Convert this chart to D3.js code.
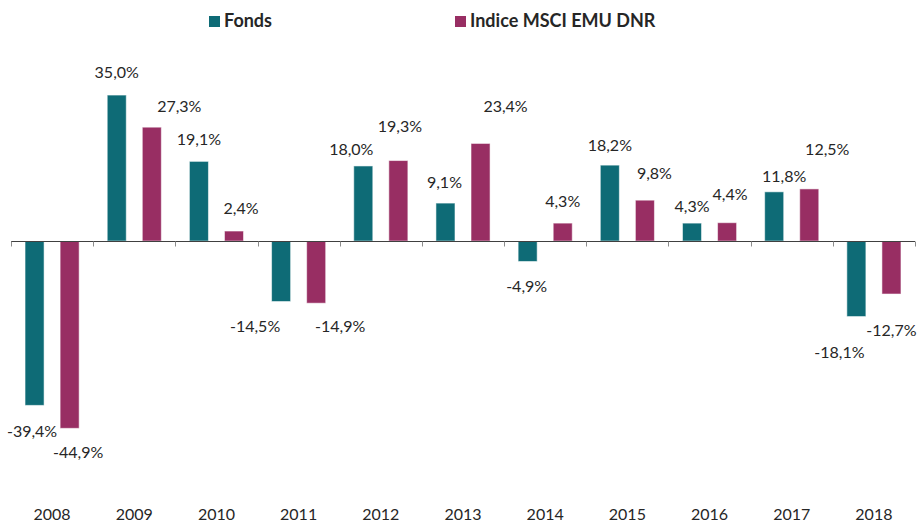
<!DOCTYPE html>
<html>
<head>
<meta charset="utf-8">
<script src="https://cdn.jsdelivr.net/npm/d3@7"></script>
<style>
  body { margin: 0; background: #fff; }
  svg { display: block; font-family: Lato, "Open Sans", sans-serif; }
</style>
</head>
<body>
<svg id="chart" width="917" height="522"></svg>
<script>
// Data (annual performance, %)
const years = ["2008", "2009", "2010", "2011", "2012", "2013", "2014", "2015", "2016", "2017", "2018"];
const fonds = [-39.4, 35.0, 19.1, -14.5, 18.0, 9.1, -4.9, 18.2, 4.3, 11.8, -18.1];
const indice = [-44.9, 27.3, 2.4, -14.9, 19.3, 23.4, 4.3, 9.8, 4.4, 12.5, -12.7];
const seriesNames = ["Fonds", "Indice MSCI EMU DNR"];

// Layout: labels were placed by hand in the original, so keep the nudges here
// [dx, dy] from the bar end, per year
const labelNudge = [
  [[-2.5, 25.5], [0, -22.5], [0, -22], [-26, 25], [-12, -17], [-1, -21], [-1, 25], [0, -20], [0, -17], [10, -16], [-17, 36]],
  [[8.5, 24], [27.5, -21], [7, -22.7], [24, 23], [1.5, -34], [25, -37], [0, -22], [9.5, -27], [3, -28.6], [18, -40], [0, 36]]
];
const colors = ["#0e6b76", "#982e63"];

const svg = d3.select("#chart");

const x = d3.scaleBand()
  .domain(years)
  .range([11, 915])
  .paddingInner(0)
  .paddingOuter(0);

const xs = d3.scaleBand()
  .domain([0, 1])
  .range([0, x.bandwidth()])
  .paddingInner(0.457)
  .paddingOuter(0.4);

const y = d3.scaleLinear()
  .domain([-50, 40])
  .range([449.6, 74.2]);

// french style: comma decimals, plain hyphen for negatives
const fmt = v => d3.format(".1f")(v).replace("\u2212", "-").replace(".", ",") + "%";

const data = years.map((yr, i) => ({ year: yr, values: [fonds[i], indice[i]] }));

// bars
const groups = svg.selectAll("g.year")
  .data(data)
  .enter()
  .append("g")
  .attr("class", "year")
  .attr("transform", d => "translate(" + x(d.year) + ",0)");

groups.selectAll("rect")
  .data(d => d.values.map((v, s) => ({ v, s })))
  .enter()
  .append("rect")
  .attr("x", d => xs(d.s))
  .attr("width", xs.bandwidth())
  .attr("y", d => y(Math.max(0, d.v)))
  .attr("height", d => Math.abs(y(d.v) - y(0)))
  .attr("fill", d => colors[d.s])
  .attr("stroke", "#fff")
  .attr("stroke-opacity", 0.55)
  .attr("stroke-width", 1);

// value labels
groups.each(function(d, i) {
  d3.select(this).selectAll("text.val")
    .data(d.values.map((v, s) => ({ v, s })))
    .enter()
    .append("text")
    .attr("class", "val")
    .attr("x", e => xs(e.s) + xs.bandwidth() / 2 + labelNudge[e.s][i][0])
    .attr("y", e => y(e.v) + labelNudge[e.s][i][1] + 5.8)
    .attr("text-anchor", "middle")
    .attr("font-size", 16)
    .attr("fill", "#262626")
    .text(e => fmt(e.v));
});

// zero axis with ticks at the category boundaries
const y0 = Math.round(y(0)) + 0.5;
svg.append("line")
  .attr("x1", x.range()[0]).attr("x2", x.range()[1])
  .attr("y1", y0).attr("y2", y0)
  .attr("stroke", "#404040")
  .attr("stroke-width", 1);

const edges = years.map(yr => x(yr)).concat([x.range()[1]]);
svg.selectAll("line.tick")
  .data(edges)
  .enter()
  .append("line")
  .attr("class", "tick")
  .attr("x1", d => Math.round(d) + 0.5).attr("x2", d => Math.round(d) + 0.5)
  .attr("y1", y0).attr("y2", y0 + 5)
  .attr("stroke", "#8c8c8c")
  .attr("stroke-width", 1);

// year labels
svg.selectAll("text.yr")
  .data(years)
  .enter()
  .append("text")
  .attr("class", "yr")
  .attr("x", d => x(d) + x.bandwidth() / 2)
  .attr("y", 520)
  .attr("text-anchor", "middle")
  .attr("font-size", 16)
  .attr("fill", "#262626")
  .text(d => d);

// legend
const legendX = [209, 455];
const legend = svg.selectAll("g.legend")
  .data(seriesNames)
  .enter()
  .append("g")
  .attr("class", "legend")
  .attr("transform", (d, i) => "translate(" + legendX[i] + ",16)");

legend.append("rect")
  .attr("width", 11)
  .attr("height", 11)
  .attr("fill", (d, i) => colors[i]);

legend.append("text")
  .attr("x", 15)
  .attr("y", 11)
  .attr("font-size", 18)
  .attr("font-weight", "bold")
  .attr("fill", "#262626")
  .text(d => d);
</script>
</body>
</html>
